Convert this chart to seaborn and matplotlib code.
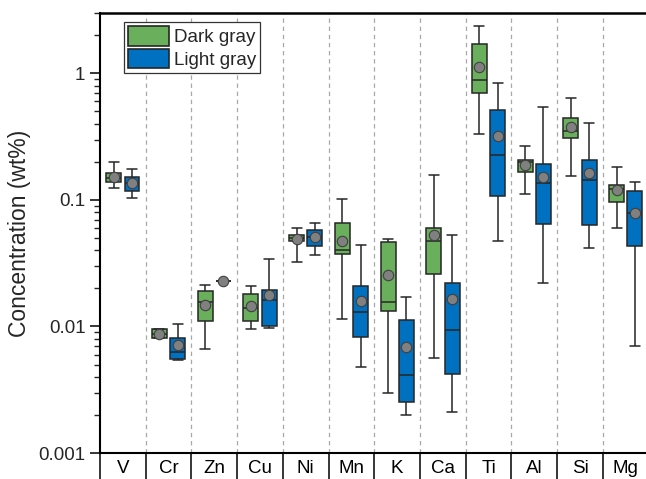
import numpy as np
import pandas as pd
import matplotlib
matplotlib.use("Agg")
import matplotlib.pyplot as plt
from matplotlib.patches import Patch
from matplotlib.ticker import LogLocator, NullFormatter, FixedLocator
import seaborn as sns

# Element concentrations (wt%) summarised per group: whisker ends, quartiles, median, mean
elements = ["V", "Cr", "Zn", "Cu", "Ni", "Mn", "K", "Ca", "Ti", "Al", "Si", "Mg"]
groups = ["Dark gray", "Light gray"]

dark_min = [0.124, 0.0081, 0.00667, 0.0095, 0.0324, 0.0115, 0.0030, 0.0056, 0.331, 0.112, 0.154, 0.0605]
dark_q1 = [0.138, 0.0081, 0.0111, 0.0111, 0.0470, 0.0376, 0.0132, 0.0261, 0.705, 0.165, 0.310, 0.0959]
dark_med = [0.148, 0.0087, 0.0155, 0.0140, 0.0500, 0.0399, 0.0155, 0.0470, 0.886, 0.198, 0.349, 0.123]
dark_q3 = [0.162, 0.0096, 0.0192, 0.0182, 0.0530, 0.0662, 0.0464, 0.0605, 1.72, 0.2055, 0.445, 0.1306]
dark_max = [0.200, 0.0096, 0.0211, 0.0208, 0.0605, 0.102, 0.0493, 0.157, 2.375, 0.266, 0.644, 0.181]
dark_mean = [0.153, 0.0087, 0.0147, 0.0146, 0.0493, 0.0470, 0.0255, 0.0530, 1.12, 0.189, 0.377, 0.119]

light_min = [0.104, 0.00546, 0.0228, 0.00964, 0.0367, 0.00482, 0.0020, 0.0021, 0.0475, 0.0221, 0.0417, 0.0070]
light_q1 = [0.118, 0.0055, 0.0228, 0.0100, 0.0434, 0.00824, 0.00255, 0.00419, 0.1069, 0.0647, 0.0628, 0.0434]
light_med = [0.137, 0.00632, 0.0228, 0.01633, 0.0505, 0.01306, 0.00411, 0.00946, 0.225, 0.1355, 0.143, 0.0794]
light_q3 = [0.153, 0.00805, 0.0228, 0.0193, 0.0580, 0.0210, 0.01122, 0.0222, 0.514, 0.192, 0.2076, 0.1184]
light_max = [0.174, 0.01038, 0.0228, 0.0343, 0.0656, 0.0443, 0.0172, 0.0524, 0.845, 0.543, 0.406, 0.1387]
light_mean = [0.137, 0.00708, 0.0228, 0.01787, 0.0505, 0.0160, 0.00692, 0.0165, 0.321, 0.152, 0.1633, 0.0794]

colors = {"Dark gray": "#6aaf5b", "Light gray": "#0070c0"}
edge = "#262626"

# Long table: five summary points per box reproduce the quartiles exactly
rows = []
summaries = {
    "Dark gray": (dark_min, dark_q1, dark_med, dark_q3, dark_max),
    "Light gray": (light_min, light_q1, light_med, light_q3, light_max),
}
for g, cols in summaries.items():
    for i, el in enumerate(elements):
        for c in cols:
            rows.append({"element": el, "group": g, "value": c[i]})
box_df = pd.DataFrame(rows)

mean_df = pd.DataFrame({
    "element": elements * 2,
    "group": ["Dark gray"] * len(elements) + ["Light gray"] * len(elements),
    "mean": dark_mean + light_mean,
})

sns.set_style("ticks")
plt.rcParams["font.family"] = ["Liberation Sans", "DejaVu Sans"]
plt.rcParams["axes.linewidth"] = 1.5

fig = plt.figure(figsize=(6.46, 4.79), dpi=100)
ax = fig.add_axes([100 / 646, 26 / 479, 548.6 / 646, 440 / 479])

sns.boxplot(
    data=box_df, x="element", y="value", hue="group",
    order=elements, hue_order=groups, palette=colors, saturation=1,
    width=0.8, gap=0.18, whis=(0, 100), log_scale=True,
    linecolor=edge, linewidth=1.1, showfliers=False,
    capwidths=0.22, legend=False, ax=ax,
)
sns.stripplot(
    data=mean_df, x="element", y="mean", hue="group",
    order=elements, hue_order=groups, dodge=True, jitter=False,
    palette={"Dark gray": "#808080", "Light gray": "#808080"},
    size=7.5, linewidth=0.8, edgecolor="#404040", legend=False,
    zorder=5, ax=ax,
)

# Category separators
for b in np.arange(0.5, len(elements) - 0.5, 1.0):
    ax.axvline(b, color="#a8a8a8", lw=0.9, ls=(0, (3.5, 3)), zorder=0)

ax.set_xlim(-0.5, len(elements) - 0.5)
ax.set_ylim(0.001, 3.0)
ax.set_yscale("log")
ax.yaxis.set_major_locator(LogLocator(base=10, numticks=10))
ax.yaxis.set_minor_locator(LogLocator(base=10, subs=np.arange(2, 10), numticks=20))
ax.yaxis.set_minor_formatter(NullFormatter())
ax.set_yticks([0.001, 0.01, 0.1, 1])
ax.set_yticklabels(["0.001", "0.01", "0.1", "1"])

ax.set_xticks(range(len(elements)))
ax.set_xticklabels(elements)
ax.xaxis.set_minor_locator(FixedLocator(np.arange(-0.5, len(elements), 1.0)))
ax.tick_params(axis="x", which="major", length=0, pad=5, labelsize=13.5, colors="black")
ax.tick_params(axis="x", which="minor", length=30, width=1.3, color=edge, direction="out")
ax.tick_params(axis="y", which="major", length=7, width=1.3, labelsize=13.5, direction="out")
ax.tick_params(axis="y", which="minor", length=4, width=1.0, direction="out")

for side in ["left", "bottom", "top", "right"]:
    ax.spines[side].set_visible(True)
    ax.spines[side].set_color("black")
ax.spines["top"].set_linewidth(1.8)

ax.set_xlabel("")
ax.set_ylabel("Concentration (wt%)", fontsize=16.5, labelpad=5)

handles = [Patch(facecolor=colors[g], edgecolor=edge, linewidth=1.2, label=g) for g in groups]
leg = ax.legend(
    handles=handles, loc="upper left", bbox_to_anchor=(0.043, 0.979),
    fontsize=13.5, frameon=True, fancybox=False, framealpha=1,
    handlelength=2.2, handleheight=1.2, handletextpad=0.25,
    labelspacing=0.15, borderpad=0.22, borderaxespad=0,
)
leg.get_frame().set_edgecolor("#333333")
leg.get_frame().set_linewidth(0.9)

fig.savefig("out.png", dpi=100)
